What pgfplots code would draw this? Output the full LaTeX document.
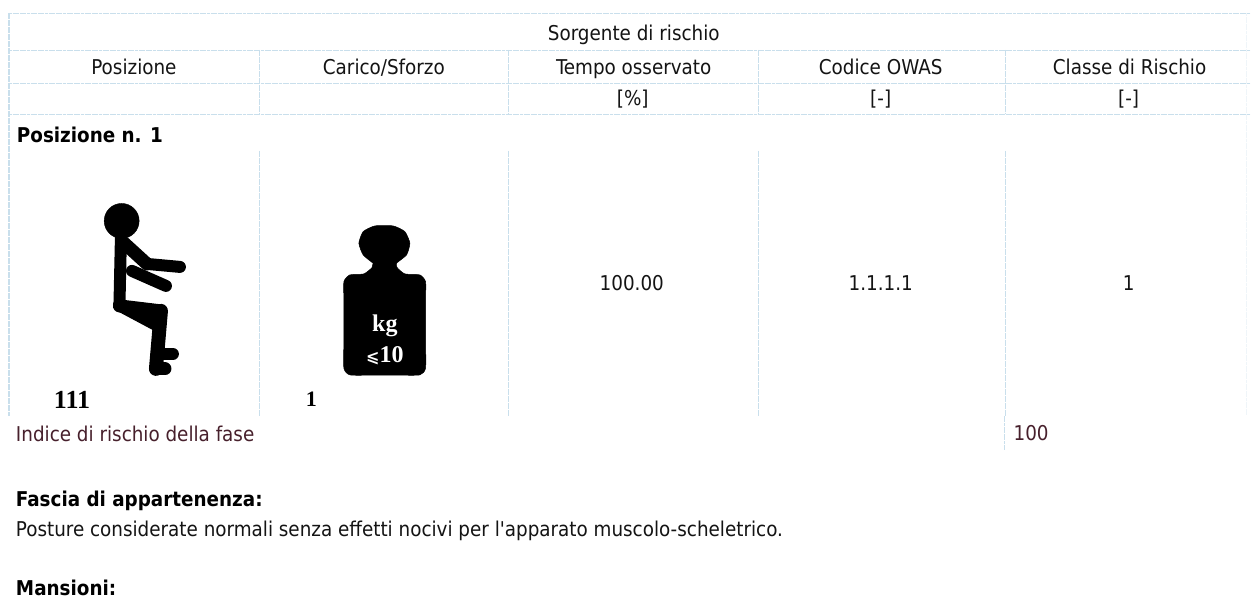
\documentclass[border=0pt]{standalone}
\usepackage{fontspec}
\setmainfont{DejaVu Sans Condensed}
\newfontfamily\serifb{Liberation Serif}[BoldFont={* Bold}]
\newfontfamily\dvb{DejaVu Sans}
\usepackage{pgfplots}
\pgfplotsset{compat=1.18}
\definecolor{gridc}{HTML}{C9DFEC}
\definecolor{ink}{HTML}{141414}
\definecolor{maroon}{HTML}{47202C}
\newcommand{\fs}{\fontsize{20.4}{24}\selectfont}
\tikzset{tx/.style={font=\fs, text=ink, inner sep=0pt, outer sep=0pt},
         bx/.style={font=\fs\bfseries, text=black, inner sep=0pt, outer sep=0pt},
         sb/.style={inner sep=0pt, outer sep=0pt}}
\begin{document}
\begin{tikzpicture}
\begin{axis}[
  scale only axis, width=1251pt, height=600pt,
  xmin=0, xmax=1251, ymin=0, ymax=600, y dir=reverse,
  hide axis, clip=false, enlargelimits=false,
]
% background
\addplot[draw=none, fill=white, forget plot] coordinates {(0,0) (1251,0) (1251,600) (0,600)} -- cycle;
% grid: horizontals
\pgfplotsset{gl/.style={gridc, line width=0.9pt, dash pattern=on 3pt off 0.6pt, forget plot},
             vl/.style={gridc, line width=1.2pt, dash pattern=on 3pt off 0.5pt, forget plot}}
\addplot[gl] coordinates {(9,13) (1251,13)};
\addplot[gl] coordinates {(9,50) (1251,50)};
\addplot[gl] coordinates {(9,83) (1251,83)};
\addplot[gl] coordinates {(9,114) (1251,114)};
% verticals
\addplot[vl] coordinates {(9,13) (9,416)};
\addplot[vl] coordinates {(259.5,50) (259.5,114)};
\addplot[vl] coordinates {(259.5,151) (259.5,416)};
\addplot[vl] coordinates {(509,50) (509,114)};
\addplot[vl] coordinates {(509,151) (509,416)};
\addplot[vl] coordinates {(759,50) (759,114)};
\addplot[vl] coordinates {(759,151) (759,416)};
\addplot[vl] coordinates {(1006,50) (1006,114)};
\addplot[vl] coordinates {(1006,151) (1006,416)};
\addplot[gl, line width=0.6pt] coordinates {(1005,416) (1005,450)};
\addplot[gl, color=gridc!30, line width=1pt] coordinates {(1247,13) (1247,416)};
% stick figure
\pgfplotsset{fig/.style={black, line width=12pt, line cap=round, line join=round, forget plot}}
\addplot[black, only marks, mark=*, mark size=17.5pt, forget plot] coordinates {(121.7,221)};
\addplot[fig, line cap=butt] coordinates {(121,236) (119.5,305)};
\addplot[fig, line width=13pt] coordinates {(124,243) (147,264)};
\addplot[fig, line width=12pt] coordinates {(147,264) (180,267)};
\addplot[fig, line width=12pt] coordinates {(132,271) (166,286)};
\addplot[fig, line width=13pt] coordinates {(119.5,305) (157,325)};
\addplot[fig, line width=13pt] coordinates {(119.5,306) (161,311)};
\addplot[fig, line width=14pt] coordinates {(140,314) (158,322)};
\addplot[fig, line width=14pt] coordinates {(161,311) (156,369)};
\addplot[fig, line width=12pt] coordinates {(157,354) (173,354)};
\addplot[fig, line width=13pt] coordinates {(156,369) (165,369)};
% weight
\addplot[fill=black, draw=black, line width=0.5pt, smooth, tension=0.35, forget plot] coordinates {
 (373.3,263.3) (363.3,255) (359,243.3) (363.3,231.7) (375,226) (393.3,226) (405,231.7) (410,243.3)
 (406.7,255) (396.7,263.3) (397.5,268) (405,274) (420,275) (425.7,281.7) (425.7,300) (425.7,340) (425.7,368.3) (420,375)
 (400,375.3) (370,375.3) (350,375) (344,368.3) (344,340) (344,300) (344,281.7) (350,275) (364,274) (372,268)} -- cycle;
% weight and figure labels
\node[sb, anchor=base, text=white, font=\serifb\bfseries\fontsize{24}{26}\selectfont] at (axis cs:385,332) {kg};
\node[sb, anchor=base, text=white, font=\serifb\bfseries\fontsize{24}{26}\selectfont] at (axis cs:385,363) {{\dvb\bfseries\fontsize{16}{18}\selectfont ⩽}10};
\node[sb, anchor=base west, font=\serifb\bfseries\fontsize{26}{28}\selectfont] at (axis cs:54,409) {111};
\node[sb, anchor=base west, font=\serifb\bfseries\fontsize{22}{24}\selectfont] at (axis cs:306,407) {1};
% header text
\node[tx, anchor=base] at (axis cs:634,41) {Sorgente di rischio};
\node[tx, anchor=base] at (axis cs:134,75) {Posizione};
\node[tx, anchor=base] at (axis cs:384,75) {Carico/Sforzo};
\node[tx, anchor=base] at (axis cs:634,75) {Tempo osservato};
\node[tx, anchor=base] at (axis cs:881,75) {Codice OWAS};
\node[tx, anchor=base] at (axis cs:1130,75) {Classe di Rischio};
\node[tx, anchor=base] at (axis cs:633,106) {[\%]};
\node[tx, anchor=base] at (axis cs:881,106) {[-]};
\node[tx, anchor=base] at (axis cs:1129,106) {[-]};
\node[bx, anchor=base west] at (axis cs:17,143) {Posizione n. 1};
\node[tx, anchor=base] at (axis cs:632,291) {100.00};
\node[tx, anchor=base] at (axis cs:881,291) {1.1.1.1};
\node[tx, anchor=base] at (axis cs:1129,291) {1};
\node[tx, anchor=base west, text=maroon] at (axis cs:16,442) {Indice di rischio della fase};
\node[tx, anchor=base west, text=maroon] at (axis cs:1014,441) {100};
\node[bx, anchor=base west] at (axis cs:16,507) {Fascia di appartenenza:};
\node[tx, anchor=base west] at (axis cs:16,537) {Posture considerate normali senza effetti nocivi per l\textquotesingle apparato muscolo-scheletrico.};
\node[bx, anchor=base west] at (axis cs:16,596) {Mansioni:};
\end{axis}
\end{tikzpicture}
\end{document}
